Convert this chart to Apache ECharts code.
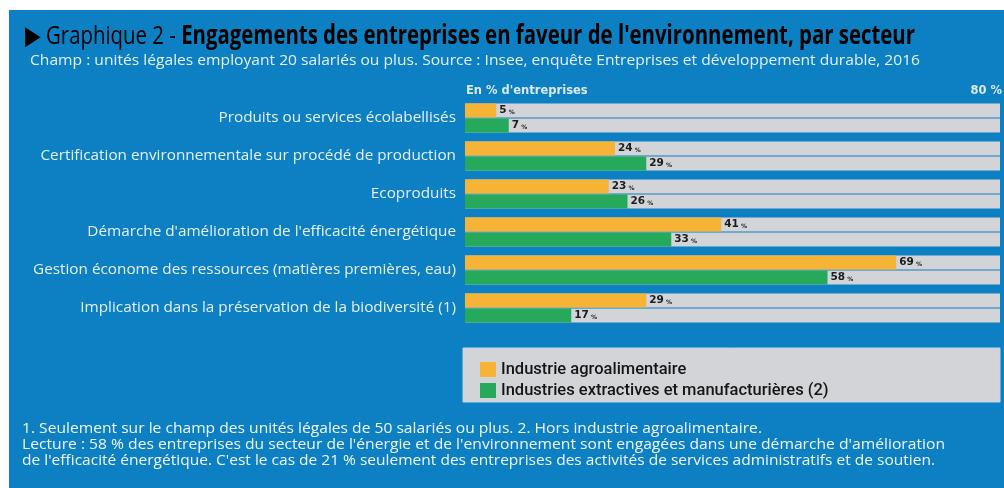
<!DOCTYPE html>
<html>
<head>
<meta charset="utf-8">
<script src="https://cdn.jsdelivr.net/npm/echarts@6/dist/echarts.min.js"></script>
<style>
  html, body { margin: 0; padding: 0; background: #fff; }
  #chart { width: 1004px; height: 488px; }
</style>
</head>
<body>
<div id="chart"></div>
<script>
// données
var categories = [
    'Produits ou services écolabellisés',
    'Certification environnementale sur procédé de production',
    'Ecoproduits',
    "Démarche d'amélioration de l'efficacité énergétique",
    'Gestion économe des ressources (matières premières, eau)',
    'Implication dans la préservation de la biodiversité (1)'
];
var seriesNames = ['Industrie agroalimentaire', 'Industries extractives et manufacturières (2)'];
var agro = [5, 24, 23, 41, 69, 29];
var manuf = [7, 29, 26, 33, 58, 17];
var axisMaxLabel = 80;

var titreA = '▶ Graphique 2 - ';
var titreB = "Engagements des entreprises en faveur de l'environnement, par secteur";
var sousTitre = 'Champ : unités légales employant 20 salariés ou plus. Source : Insee, enquête Entreprises et développement durable, 2016';
var notes = [
    '1. Seulement sur le champ des unités légales de 50 salariés ou plus. 2. Hors industrie agroalimentaire.',
    "Lecture : 58 % des entreprises du secteur de l'énergie et de l'environnement sont engagées dans une démarche d'amélioration",
    "de l'efficacité énergétique. C'est le cas de 21 % seulement des entreprises des activités de services administratifs et de soutien."
];

var blue = '#0c80c2';
var textLight = '#e6f0f8';

// mesure du texte pour le resserrer (police étroite de l'original)
var ctx = document.createElement('canvas').getContext('2d');
function textWidth(t, font) {
    ctx.font = font;
    return ctx.measureText(t).width;
}

var chart = echarts.init(document.getElementById('chart'));

var valueLabel = {
    show: true,
    position: 'right',
    distance: 3,
    formatter: function (p) { return '{v|' + p.value + '}{p| %}'; },
    rich: {
        v: { fontFamily: 'DejaVu Sans', fontWeight: 'bold', fontSize: 10.5, color: '#1c1c1c' },
        p: { fontFamily: 'DejaVu Sans', fontWeight: 'bold', fontSize: 6, color: '#1c1c1c', padding: [3, 0, 0, 0] }
    }
};

var wA = textWidth(titreA, '26px "Open Sans"');
var wB = textWidth(titreB, 'bold 26px "Open Sans"');
var sTitre = (915 - 25) / (wA + wB);
var sSous = (920 - 30) / textWidth(sousTitre, '15px "Open Sans"');
var noteEnds = [762, 945, 935];

var graphics = [
    // fond bleu
    { type: 'rect', z: -10, shape: { x: 9, y: 10, width: 995, height: 478 }, style: { fill: blue } },
    // titre
    {
        type: 'text', x: 25, y: 24, scaleX: sTitre,
        style: {
            text: '{a|' + titreA + '}{b|' + titreB + '}',
            rich: {
                a: { fontFamily: 'Open Sans', fontSize: 26, color: textLight },
                b: { fontFamily: 'Open Sans', fontWeight: 'bold', fontSize: 26, color: textLight }
            }
        }
    },
    {
        type: 'text', x: 30, y: 53, scaleX: sSous,
        style: { text: sousTitre, fontFamily: 'Open Sans', fontSize: 15, fill: textLight }
    },
    // en-tête axe
    {
        type: 'text', left: 466, top: 85,
        style: { text: "En % d'entreprises", fontFamily: 'DejaVu Sans', fontWeight: 'bold', fontSize: 11.5, fill: '#dbe9f5' }
    },
    {
        type: 'text', right: 2, top: 85,
        style: { text: axisMaxLabel + ' %', fontFamily: 'DejaVu Sans', fontWeight: 'bold', fontSize: 11.5, fill: '#dbe9f5' }
    },
    // cadre légende
    { type: 'rect', z: 0, shape: { x: 463, y: 348, width: 537, height: 54 }, style: { fill: '#d2d4d8', stroke: '#b9d6ec', lineWidth: 1 } }
];
notes.forEach(function (t, i) {
    graphics.push({
        type: 'text', x: 22, y: 421 + i * 16,
        scaleX: (noteEnds[i] - 22) / textWidth(t, '15px "Open Sans"'),
        style: { text: t, fontFamily: 'Open Sans', fontSize: 15, fill: '#f0f6fb' }
    });
});

var option = {
    backgroundColor: '#ffffff',
    animation: false,
    graphic: graphics,
    legend: {
        data: seriesNames,
        orient: 'vertical',
        left: 475,
        top: 356,
        itemWidth: 16,
        itemHeight: 15,
        itemGap: 4,
        icon: 'rect',
        z: 5,
        textStyle: { fontFamily: 'Roboto', fontWeight: 500, fontSize: 16.5, color: '#151515', padding: [0, 0, 0, 0] }
    },
    grid: { left: 465, right: 4, top: 99, height: 228 },
    xAxis: {
        type: 'value',
        min: 0,
        max: 85.6,
        show: false
    },
    yAxis: {
        type: 'category',
        data: categories,
        inverse: true,
        axisLine: { show: false },
        axisTick: { show: false },
        axisLabel: { color: textLight, fontFamily: 'Open Sans', fontSize: 15.3, margin: 9, padding: [6, 0, 0, 0] }
    },
    series: [
        {
            name: seriesNames[0],
            type: 'bar',
            data: agro,
            barWidth: 14,
            barGap: '8%',
            itemStyle: { color: '#f6b336' },
            showBackground: true,
            backgroundStyle: { color: '#d2d4d8' },
            label: valueLabel
        },
        {
            name: seriesNames[1],
            type: 'bar',
            data: manuf,
            barWidth: 14,
            barGap: '8%',
            itemStyle: { color: '#27a95b' },
            showBackground: true,
            backgroundStyle: { color: '#d2d4d8' },
            label: valueLabel
        }
    ]
};
chart.setOption(option);
</script>
</body>
</html>
